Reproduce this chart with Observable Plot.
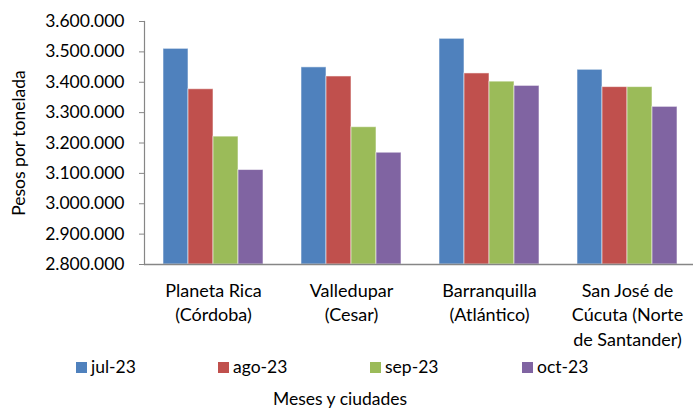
<!DOCTYPE html>
<html>
<head>
<meta charset="utf-8">
<script src="https://cdn.jsdelivr.net/npm/d3@7"></script>
<script src="https://cdn.jsdelivr.net/npm/@observablehq/plot@0.6"></script>
<style>
  html, body { margin: 0; padding: 0; background: #fff; }
  #wrap { position: relative; width: 693px; height: 408px; overflow: hidden; font-family: Lato, sans-serif; color: #000; }
  #chart svg { display: block; }
  .lg-item { position: absolute; top: 356px; font-size: 17.5px; line-height: 22px; white-space: nowrap; display: flex; align-items: center; }
  .lg-sw { width: 11px; height: 11px; margin-right: 4px; display: inline-block; }
  #xtitle { position: absolute; top: 388px; left: 0; width: 680px; text-align: center; font-size: 17.5px; line-height: 22px; }
</style>
</head>
<body>
<div id="wrap">
  <div id="chart"></div>
  <div id="legend"></div>
  <div id="xtitle">Meses y ciudades</div>
</div>
<script>
const cities = ["Planeta Rica\n(Córdoba)", "Valledupar\n(Cesar)", "Barranquilla\n(Atlántico)", "San José de\nCúcuta (Norte\nde Santander)"];
const months = ["jul-23", "ago-23", "sep-23", "oct-23"];
const jul = [3510000, 3449000, 3543000, 3441000];
const ago = [3377000, 3419000, 3429000, 3384000];
const sep = [3221000, 3252000, 3402000, 3384000];
const oct = [3111000, 3168000, 3388000, 3319000];
const yTicks = [2800000, 2900000, 3000000, 3100000, 3200000, 3300000, 3400000, 3500000, 3600000];
const baseValue = 2800000;
const colors = ["#4F81BD", "#C0504D", "#9BBB59", "#8064A2"];

const series = [jul, ago, sep, oct];
const rows = [];
cities.forEach((c, i) => months.forEach((m, j) => rows.push({city: c, month: m, value: series[j][i]})));

const fmt = d3.formatLocale({decimal: ",", thousands: ".", grouping: [3], currency: ["$", ""]}).format(",.0f");

const chart = Plot.plot({
  width: 693,
  height: 352,
  marginTop: 21,
  marginBottom: 88,
  marginLeft: 143,
  marginRight: -4,
  style: {fontFamily: "Lato, sans-serif", fontSize: "17.5px", color: "#000", background: "white", overflow: "visible"},
  fx: {domain: cities, padding: 0},
  x: {domain: months, paddingInner: 0, paddingOuter: 0.74, axis: null},
  y: {domain: [yTicks[0], yTicks[yTicks.length - 1]]},
  color: {domain: months, range: colors},
  marks: [
    Plot.barY(rows, {fx: "city", x: "month", y1: baseValue, y2: "value", fill: "month", stroke: "white", strokeOpacity: 0.55, strokeWidth: 1}),
    Plot.ruleY([baseValue], {stroke: "#868686", strokeWidth: 1.5}),
    Plot.frame({anchor: "left", facetAnchor: "left", stroke: "#868686", strokeWidth: 1.2}),
    Plot.axisY({ticks: yTicks, tickFormat: fmt, tickSize: 5, tickPadding: 15, stroke: "#868686", fill: "black",
      label: "Pesos por tonelada", labelAnchor: "center", labelArrow: "none", labelOffset: 132}),
    Plot.axisFx({anchor: "bottom", tickSize: 0, tickPadding: 15, lineHeight: 1.36, fontSize: 18, label: null, fill: "black"})
  ]
});
document.getElementById("chart").append(chart);

const legendLefts = [76, 218, 370, 522];
const lg = d3.select("#legend");
months.forEach((m, i) => {
  const item = lg.append("div").attr("class", "lg-item").style("left", legendLefts[i] + "px");
  item.append("span").attr("class", "lg-sw").style("background", colors[i]);
  item.append("span").text(m);
});
</script>
</body>
</html>
